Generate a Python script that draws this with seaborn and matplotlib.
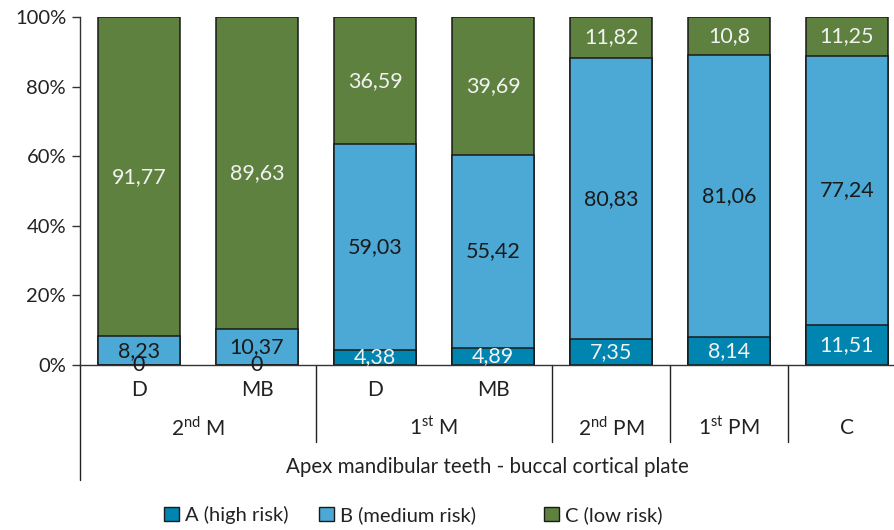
import matplotlib
matplotlib.use("Agg")
import matplotlib.pyplot as plt
from matplotlib.patches import Patch
from matplotlib.lines import Line2D
import matplotlib.transforms as mtransforms
import numpy as np
import pandas as pd
import seaborn as sns

# Sub-site labels (one per bar) and tooth groups
sites = ["D", "MB", "D", "MB", "", "", ""]
bar_keys = ["2M-D", "2M-MB", "1M-D", "1M-MB", "2PM", "1PM", "C"]
groups = [r"2$^{\mathregular{nd}}$ M", r"1$^{\mathregular{st}}$ M",
          r"2$^{\mathregular{nd}}$ PM", r"1$^{\mathregular{st}}$ PM", "C"]
group_span = [(0, 1), (2, 3), (4, 4), (5, 5), (6, 6)]

# Percentages per risk class
risk_a = [0, 0, 4.38, 4.89, 7.35, 8.14, 11.51]
risk_b = [8.23, 10.37, 59.03, 55.42, 80.83, 81.06, 77.24]
risk_c = [91.77, 89.63, 36.59, 39.69, 11.82, 10.8, 11.25]

series_names = ["A (high risk)", "B (medium risk)", "C (low risk)"]
colors = ["#0085B0", "#4CA8D5", "#5E8140"]
axis_title = "Apex mandibular teeth - buccal cortical plate"

sns.set_theme(style="white")
plt.rcParams["font.family"] = ["Lato", "DejaVu Sans"]
plt.rcParams["mathtext.fontset"] = "custom"
plt.rcParams["mathtext.rm"] = "Lato"

W, H = 894, 530
fig = plt.figure(figsize=(W / 100, H / 100), dpi=100)
ax_left, ax_top, ax_bottom = 80, 17, 365
slot = 118
ax = fig.add_axes([ax_left / W, (H - ax_bottom) / H,
                   (W - ax_left) / W, (ax_bottom - ax_top) / H])

df = pd.DataFrame({"bar": bar_keys, "A": risk_a, "B": risk_b, "C": risk_c})
df["AB"] = df["A"] + df["B"]
df["ABC"] = df["AB"] + df["C"]

# Stack by drawing cumulative totals back to front
for col, c in [("ABC", colors[2]), ("AB", colors[1]), ("A", colors[0])]:
    sns.barplot(data=df, x="bar", y=col, order=bar_keys, color=c,
                saturation=1, width=0.7, edgecolor="#1a1a1a", linewidth=1.1,
                ax=ax)

ax.set_xlim(-0.5, -0.5 + (W - ax_left) / slot)
ax.set_ylim(0, 100)
ax.set_yticks(np.arange(0, 101, 20))
ax.set_yticklabels([f"{v}%" for v in range(0, 101, 20)], fontsize=14.5, color="#222222")
ax.set_xticks([])
ax.set_xlabel("")
ax.set_ylabel("")
ax.tick_params(axis="y", which="both", left=True, length=6, width=1, color="#333333", pad=4)
for s in ["top", "right"]:
    ax.spines[s].set_visible(False)
for s in ["left", "bottom"]:
    ax.spines[s].set_color("#333333")
    ax.spines[s].set_linewidth(1)

def fmt(v):
    return format(v, "g").replace(".", ",")

# Value labels centred in each segment
dark, light = "#1a1a1a", "#f2f2f2"
vfs = 15.5
for i in range(len(bar_keys)):
    a, b, c = risk_a[i], risk_b[i], risk_c[i]
    ax.text(i, a / 2, fmt(a), ha="center", va="center", fontsize=vfs,
            color=light if a > 0 else dark)
    ax.text(i, a + b / 2, fmt(b), ha="center", va="center", fontsize=vfs, color=dark)
    ax.text(i, a + b + c / 2, fmt(c), ha="center", va="center", fontsize=vfs, color=light)

# Multi-level category axis
trans = mtransforms.blended_transform_factory(ax.transData, ax.transAxes)
def yfrac(py):
    return (ax_bottom - py) / (ax_bottom - ax_top)

for i, s in enumerate(sites):
    if s:
        ax.text(i, yfrac(390), s, transform=trans, ha="center", va="center",
                fontsize=15, color="#222222")
for g, (lo, hi) in zip(groups, group_span):
    ax.text((lo + hi) / 2, yfrac(428), g, transform=trans, ha="center",
            va="center", fontsize=15, color="#222222")
for xb in [1.5, 3.5, 4.5, 5.5]:
    ax.add_line(Line2D([xb, xb], [0, yfrac(442)], transform=trans,
                       color="#222222", lw=1, clip_on=False))
ax.add_line(Line2D([-0.5, -0.5], [0, yfrac(480)], transform=trans,
                   color="#222222", lw=1, clip_on=False))
ax.text(0.5, yfrac(467), axis_title, transform=ax.transAxes, ha="center",
        va="center", fontsize=14.8, color="#222222")

# Legend entries
for name, c, px in zip(series_names, colors, [164, 319, 544]):
    fig.legend(handles=[Patch(facecolor=c, edgecolor="#1a1a1a", linewidth=1)],
               labels=[name], loc="center left",
               bbox_to_anchor=(px / W, (H - 515) / H), frameon=False,
               fontsize=14.5, handlelength=0.72, handleheight=0.72,
               handletextpad=0.3, borderpad=0, borderaxespad=0,
               labelcolor="#222222")

fig.savefig("out.png", dpi=100)
